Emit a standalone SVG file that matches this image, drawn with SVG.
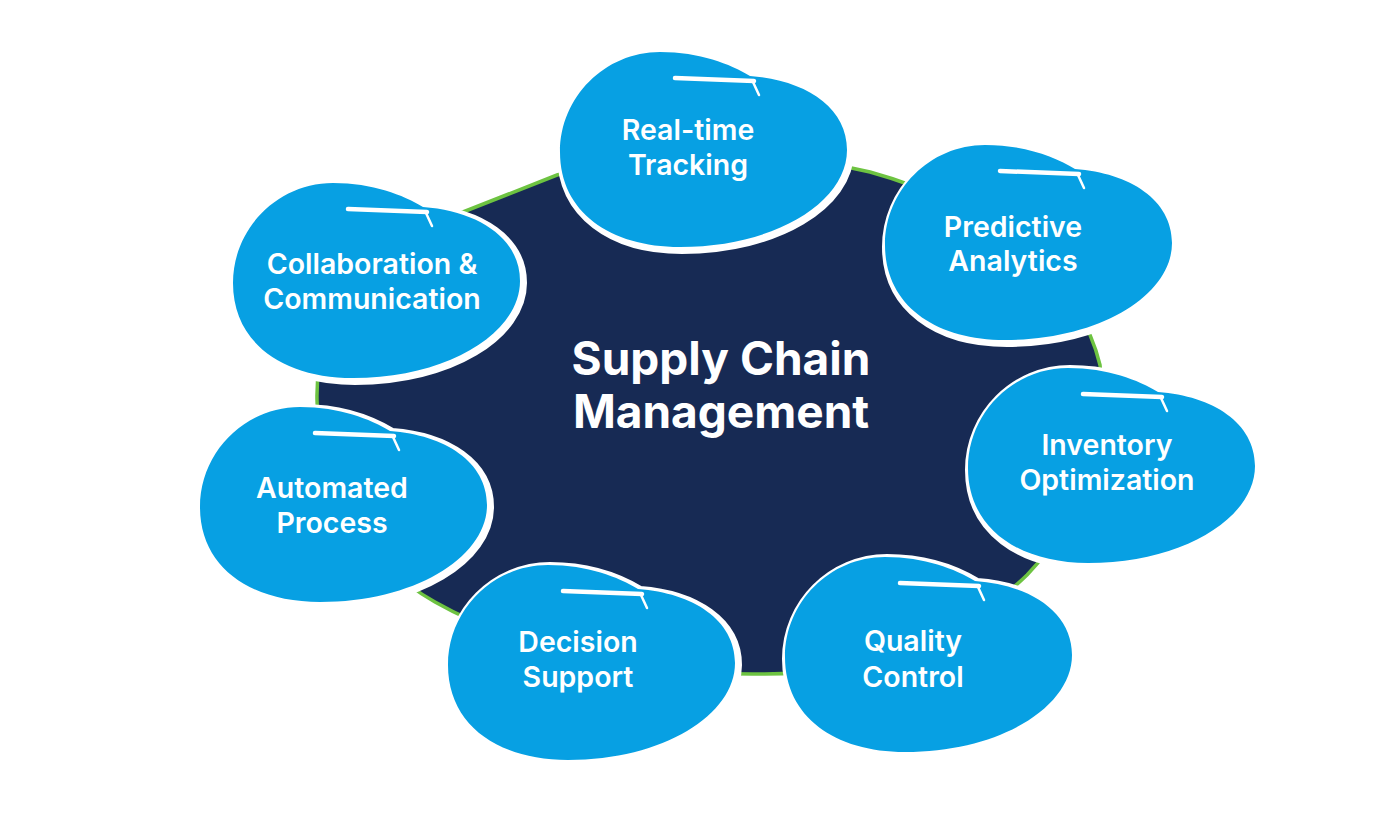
<svg xmlns="http://www.w3.org/2000/svg" xmlns:xlink="http://www.w3.org/1999/xlink" width="1400" height="823" viewBox="0 0 1400 823">
<defs>
<style>
.rim{fill:#ffffff;stroke:#ffffff;stroke-width:10;stroke-linejoin:round}
.body{fill:#07A0E3}
.hl{fill:none;stroke:#ffffff;stroke-width:4.5;stroke-linecap:round}
.tick{fill:none;stroke:#ffffff;stroke-width:2.5;stroke-linecap:round}
.lbl{font-family:Inter,"Noto Sans","Liberation Sans",sans-serif;font-weight:600;font-size:28.5px;fill:#ffffff;text-anchor:middle}
.title{font-family:Inter,"Noto Sans","Liberation Sans",sans-serif;font-weight:700;font-size:46px;fill:#ffffff;text-anchor:middle}
</style>
<path id="blob" d="M 0,100 C 0,45 45,0 100,0 C 140,0 170,12 190,24 C 245,28 287,55 287,98 C 287,150 215,195 120,195 C 50,195 0,160 0,100 Z"/>
<g id="bubble">
<use xlink:href="#blob" href="#blob" class="rim" transform="translate(2,2)"/>
<use xlink:href="#blob" href="#blob" class="body"/>
<path class="hl" d="M 115,26 L 194,29"/>
<path class="tick" d="M 193,30 L 199,43"/>
</g>
</defs>
<rect width="1400" height="823" fill="#ffffff"/>
<g id="center">
<path d="M 317,400 C 315,300 380,240 463,212 L 557,175 C 640,150 780,150 870,172 C 990,205 1080,280 1100,365 C 1110,450 1080,520 1027,575 C 960,640 860,675 760,674 C 640,675 520,650 435,602 C 360,560 318,480 317,400 Z" fill="#172A54" stroke="#6DC341" stroke-width="3.5"/>
<text class="title" x="721" y="375">Supply Chain</text>
<text class="title" x="721" y="428">Management</text>
</g>
<g id="connectors"></g>
<g id="realtime">
<use xlink:href="#bubble" href="#bubble" transform="translate(560,52)"/>
<text class="lbl" x="688" y="140">Real-time</text>
<text class="lbl" x="688" y="175">Tracking</text>
</g>
<g id="predictive">
<use xlink:href="#bubble" href="#bubble" transform="translate(885,145)"/>
<text class="lbl" x="1013" y="237">Predictive</text>
<text class="lbl" x="1013" y="271">Analytics</text>
</g>
<g id="inventory">
<use xlink:href="#bubble" href="#bubble" transform="translate(968,368)"/>
<text class="lbl" x="1107" y="455">Inventory</text>
<text class="lbl" x="1107" y="490">Optimization</text>
</g>
<g id="quality">
<use xlink:href="#bubble" href="#bubble" transform="translate(785,557)"/>
<text class="lbl" x="913" y="651">Quality</text>
<text class="lbl" x="913" y="687">Control</text>
</g>
<g id="decision">
<use xlink:href="#bubble" href="#bubble" transform="translate(448,565)"/>
<text class="lbl" x="578" y="652">Decision</text>
<text class="lbl" x="578" y="687">Support</text>
</g>
<g id="automated">
<use xlink:href="#bubble" href="#bubble" transform="translate(200,407)"/>
<text class="lbl" x="332" y="498">Automated</text>
<text class="lbl" x="332" y="533">Process</text>
</g>
<g id="collaboration">
<use xlink:href="#bubble" href="#bubble" transform="translate(233,183)"/>
<text class="lbl" x="372" y="274">Collaboration &amp;</text>
<text class="lbl" x="372" y="309">Communication</text>
</g>
</svg>
